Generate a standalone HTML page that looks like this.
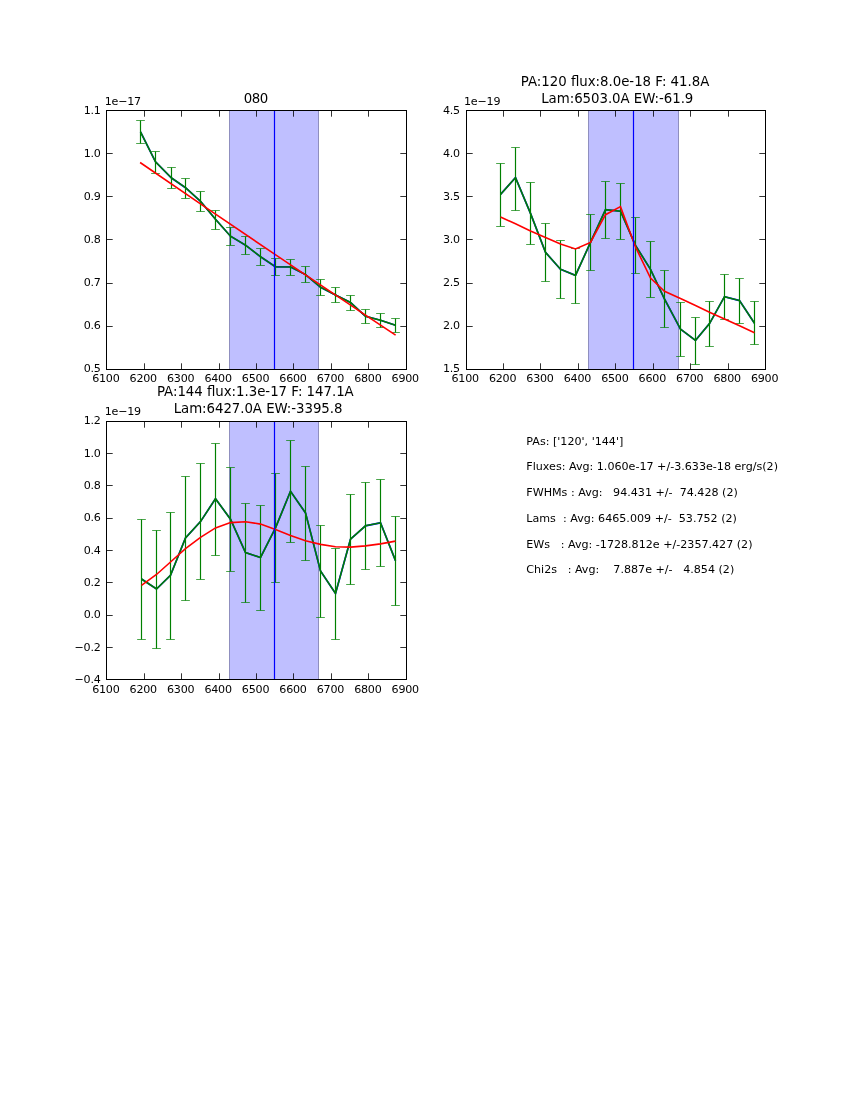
<!DOCTYPE html>
<html lang="en"><head><meta charset="utf-8"><title>080 line fits</title>
<style>html,body{margin:0;padding:0;background:#fff;overflow:hidden}svg{display:block}text{font-family:'DejaVu Sans', 'Liberation Sans', sans-serif;fill:#000;white-space:pre}</style></head><body>
<svg width="850" height="1100" viewBox="0 0 850 1100">
<rect width="850" height="1100" fill="#fff"/>
<g>
<rect x="229" y="110.5" width="90" height="259" fill="#0000ff" fill-opacity="0.25"/>
<path d="M229.5 110.5V369.5M318.5 110.5V369.5" stroke="#000" stroke-opacity="0.25" stroke-width="1" fill="none"/>
<polyline fill="none" stroke="#0000ff" stroke-width="1.7" stroke-linejoin="miter" stroke-miterlimit="10"  points="140.5,131.8 155.5,161.8 171.5,178 185.5,187.7 200.5,201.3 215.5,219.3 230.5,236.2 245.5,245.2 260.5,256.7 275.5,266.8 290.5,266.9 305.5,274.6 320.5,287.2 335.5,295 350.5,302.5 365.5,316.3 380.5,320.3 395.5,325.25"/>
<polyline fill="none" stroke="#008000" stroke-width="1.55" stroke-linejoin="miter" stroke-miterlimit="10"  points="140.5,131.8 155.5,161.8 171.5,178 185.5,187.7 200.5,201.3 215.5,219.3 230.5,236.2 245.5,245.2 260.5,256.7 275.5,266.8 290.5,266.9 305.5,274.6 320.5,287.2 335.5,295 350.5,302.5 365.5,316.3 380.5,320.3 395.5,325.25"/>
<path d="M140.5 120.5V143.5M155.5 151.5V173.5M171.5 167.5V188.5M185.5 178.5V198.5M200.5 191.5V211.5M215.5 210.5V229.5M230.5 227.5V245.5M245.5 236.5V254.5M260.5 248.5V265.5M275.5 258.5V275.5M290.5 259.5V275.5M305.5 266.5V282.5M320.5 279.5V295.5M335.5 287.5V302.5M350.5 295.5V310.5M365.5 309.5V323.5M380.5 313.5V327.5M395.5 318.5V332.5" stroke="#008000" stroke-width="1.18" fill="none"/>
<path d="M136.15 120.5H144.85M136.15 143.5H144.85M151.15 151.5H159.85M151.15 173.5H159.85M167.15 167.5H175.85M167.15 188.5H175.85M181.15 178.5H189.85M181.15 198.5H189.85M196.15 191.5H204.85M196.15 211.5H204.85M211.15 210.5H219.85M211.15 229.5H219.85M226.15 227.5H234.85M226.15 245.5H234.85M241.15 236.5H249.85M241.15 254.5H249.85M256.15 248.5H264.85M256.15 265.5H264.85M271.15 258.5H279.85M271.15 275.5H279.85M286.15 259.5H294.85M286.15 275.5H294.85M301.15 266.5H309.85M301.15 282.5H309.85M316.15 279.5H324.85M316.15 295.5H324.85M331.15 287.5H339.85M331.15 302.5H339.85M346.15 295.5H354.85M346.15 310.5H354.85M361.15 309.5H369.85M361.15 323.5H369.85M376.15 313.5H384.85M376.15 327.5H384.85M391.15 318.5H399.85M391.15 332.5H399.85" stroke="#008000" stroke-opacity="0.7" stroke-width="1" fill="none"/>
<polyline fill="none" stroke="#ff0000" stroke-width="1.6" stroke-linejoin="miter" stroke-miterlimit="10"  points="140.1,162.5 210,210.4 274.6,254.2 370,318.2 395.6,335.1"/>
<line x1="274.5" y1="110.5" x2="274.5" y2="369.5" stroke="#0000ff" stroke-width="1.2"/>
<path d="M107 153.5H112.7M406 153.5H400.3M107 196.5H112.7M406 196.5H400.3M107 239.5H112.7M406 239.5H400.3M107 283.5H112.7M406 283.5H400.3M107 326.5H112.7M406 326.5H400.3M144.5 111V116.7M144.5 369V363.3M181.5 111V116.7M181.5 369V363.3M219.5 111V116.7M219.5 369V363.3M256.5 111V116.7M256.5 369V363.3M293.5 111V116.7M293.5 369V363.3M331.5 111V116.7M331.5 369V363.3M368.5 111V116.7M368.5 369V363.3" stroke="#000" stroke-opacity="0.8" stroke-width="1" fill="none"/>
<rect x="106.5" y="110.5" width="300" height="259" fill="none" stroke="#000" stroke-width="1"/>
<text x="100.85" y="114" font-size="11.11" text-anchor="end" textLength="17.1" lengthAdjust="spacing" xml:space="preserve">1.1</text>
<text x="100.85" y="157" font-size="11.11" text-anchor="end" textLength="17.1" lengthAdjust="spacing" xml:space="preserve">1.0</text>
<text x="100.85" y="200" font-size="11.11" text-anchor="end" textLength="17.1" lengthAdjust="spacing" xml:space="preserve">0.9</text>
<text x="100.85" y="243" font-size="11.11" text-anchor="end" textLength="17.1" lengthAdjust="spacing" xml:space="preserve">0.8</text>
<text x="100.85" y="286" font-size="11.11" text-anchor="end" textLength="17.1" lengthAdjust="spacing" xml:space="preserve">0.7</text>
<text x="100.85" y="329" font-size="11.11" text-anchor="end" textLength="17.1" lengthAdjust="spacing" xml:space="preserve">0.6</text>
<text x="100.85" y="372" font-size="11.11" text-anchor="end" textLength="17.1" lengthAdjust="spacing" xml:space="preserve">0.5</text>
<text x="105.95" y="382.42" font-size="11.11" text-anchor="middle" textLength="27.6" lengthAdjust="spacing" xml:space="preserve">6100</text>
<text x="143.38" y="382.42" font-size="11.11" text-anchor="middle" textLength="27.6" lengthAdjust="spacing" xml:space="preserve">6200</text>
<text x="180.81" y="382.42" font-size="11.11" text-anchor="middle" textLength="27.6" lengthAdjust="spacing" xml:space="preserve">6300</text>
<text x="218.24" y="382.42" font-size="11.11" text-anchor="middle" textLength="27.6" lengthAdjust="spacing" xml:space="preserve">6400</text>
<text x="255.66" y="382.42" font-size="11.11" text-anchor="middle" textLength="27.6" lengthAdjust="spacing" xml:space="preserve">6500</text>
<text x="293.09" y="382.42" font-size="11.11" text-anchor="middle" textLength="27.6" lengthAdjust="spacing" xml:space="preserve">6600</text>
<text x="330.52" y="382.42" font-size="11.11" text-anchor="middle" textLength="27.6" lengthAdjust="spacing" xml:space="preserve">6700</text>
<text x="367.95" y="382.42" font-size="11.11" text-anchor="middle" textLength="27.6" lengthAdjust="spacing" xml:space="preserve">6800</text>
<text x="405.38" y="382.42" font-size="11.11" text-anchor="middle" textLength="27.6" lengthAdjust="spacing" xml:space="preserve">6900</text>
<text x="104.65" y="104.8" font-size="11.11" text-anchor="start" textLength="36.5" lengthAdjust="spacing" xml:space="preserve">1e−17</text>
<text x="255.97" y="102.8" font-size="13.33" text-anchor="middle" textLength="24.6" lengthAdjust="spacing" xml:space="preserve">080</text>
</g>
<g>
<rect x="588" y="110.5" width="91" height="259" fill="#0000ff" fill-opacity="0.25"/>
<path d="M588.5 110.5V369.5M678.5 110.5V369.5" stroke="#000" stroke-opacity="0.25" stroke-width="1" fill="none"/>
<polyline fill="none" stroke="#0000ff" stroke-width="1.7" stroke-linejoin="miter" stroke-miterlimit="10"  points="500.5,194.4 515.5,177.6 530.5,213.4 545.5,252.35 560.5,269.2 575.5,275.4 590.5,242.4 605.5,209.7 620.5,211.2 635.5,245.4 650.5,269.4 664.5,299 680.5,329.1 695.5,340.4 709.5,323.6 724.5,296.7 739.5,300.6 754.5,323.2"/>
<polyline fill="none" stroke="#008000" stroke-width="1.55" stroke-linejoin="miter" stroke-miterlimit="10"  points="500.5,194.4 515.5,177.6 530.5,213.4 545.5,252.35 560.5,269.2 575.5,275.4 590.5,242.4 605.5,209.7 620.5,211.2 635.5,245.4 650.5,269.4 664.5,299 680.5,329.1 695.5,340.4 709.5,323.6 724.5,296.7 739.5,300.6 754.5,323.2"/>
<path d="M500.5 163.5V226.5M515.5 147.5V210.5M530.5 182.5V244.5M545.5 223.5V281.5M560.5 240.5V298.5M575.5 248.5V303.5M590.5 214.5V270.5M605.5 181.5V238.5M620.5 183.5V239.5M635.5 217.5V273.5M650.5 241.5V297.5M664.5 270.5V327.5M680.5 302.5V356.5M695.5 317.5V364.5M709.5 301.5V346.5M724.5 274.5V319.5M739.5 278.5V323.5M754.5 301.5V344.5" stroke="#008000" stroke-width="1.18" fill="none"/>
<path d="M496.15 163.5H504.85M496.15 226.5H504.85M511.15 147.5H519.85M511.15 210.5H519.85M526.15 182.5H534.85M526.15 244.5H534.85M541.15 223.5H549.85M541.15 281.5H549.85M556.15 240.5H564.85M556.15 298.5H564.85M571.15 248.5H579.85M571.15 303.5H579.85M586.15 214.5H594.85M586.15 270.5H594.85M601.15 181.5H609.85M601.15 238.5H609.85M616.15 183.5H624.85M616.15 239.5H624.85M631.15 217.5H639.85M631.15 273.5H639.85M646.15 241.5H654.85M646.15 297.5H654.85M660.15 270.5H668.85M660.15 327.5H668.85M676.15 302.5H684.85M676.15 356.5H684.85M691.15 317.5H699.85M691.15 364.5H699.85M705.15 301.5H713.85M705.15 346.5H713.85M720.15 274.5H728.85M720.15 319.5H728.85M735.15 278.5H743.85M735.15 323.5H743.85M750.15 301.5H758.85M750.15 344.5H758.85" stroke="#008000" stroke-opacity="0.7" stroke-width="1" fill="none"/>
<polyline fill="none" stroke="#ff0000" stroke-width="1.6" stroke-linejoin="miter" stroke-miterlimit="10"  points="500.5,217 515.5,223.8 530.5,231 545.5,237.6 560.5,244 575.5,249 590.5,242.4 605.5,214.7 620.5,206.6 635.5,247 650.5,278.1 664.5,291.3 680.5,298.5 695.5,305.4 709.5,312.2 724.5,319 739.5,325.8 754.5,332.7"/>
<line x1="633.5" y1="110.5" x2="633.5" y2="369.5" stroke="#0000ff" stroke-width="1.2"/>
<path d="M467 153.5H472.7M765 153.5H759.3M467 196.5H472.7M765 196.5H759.3M467 239.5H472.7M765 239.5H759.3M467 283.5H472.7M765 283.5H759.3M467 326.5H472.7M765 326.5H759.3M503.5 111V116.7M503.5 369V363.3M540.5 111V116.7M540.5 369V363.3M578.5 111V116.7M578.5 369V363.3M615.5 111V116.7M615.5 369V363.3M653.5 111V116.7M653.5 369V363.3M690.5 111V116.7M690.5 369V363.3M728.5 111V116.7M728.5 369V363.3" stroke="#000" stroke-opacity="0.8" stroke-width="1" fill="none"/>
<rect x="466.5" y="110.5" width="299" height="259" fill="none" stroke="#000" stroke-width="1"/>
<text x="460.17" y="114" font-size="11.11" text-anchor="end" textLength="17.1" lengthAdjust="spacing" xml:space="preserve">4.5</text>
<text x="460.17" y="157" font-size="11.11" text-anchor="end" textLength="17.1" lengthAdjust="spacing" xml:space="preserve">4.0</text>
<text x="460.17" y="200" font-size="11.11" text-anchor="end" textLength="17.1" lengthAdjust="spacing" xml:space="preserve">3.5</text>
<text x="460.17" y="243" font-size="11.11" text-anchor="end" textLength="17.1" lengthAdjust="spacing" xml:space="preserve">3.0</text>
<text x="460.17" y="286" font-size="11.11" text-anchor="end" textLength="17.1" lengthAdjust="spacing" xml:space="preserve">2.5</text>
<text x="460.17" y="329" font-size="11.11" text-anchor="end" textLength="17.1" lengthAdjust="spacing" xml:space="preserve">2.0</text>
<text x="460.17" y="372" font-size="11.11" text-anchor="end" textLength="17.1" lengthAdjust="spacing" xml:space="preserve">1.5</text>
<text x="465.27" y="382.42" font-size="11.11" text-anchor="middle" textLength="27.6" lengthAdjust="spacing" xml:space="preserve">6100</text>
<text x="502.7" y="382.42" font-size="11.11" text-anchor="middle" textLength="27.6" lengthAdjust="spacing" xml:space="preserve">6200</text>
<text x="540.13" y="382.42" font-size="11.11" text-anchor="middle" textLength="27.6" lengthAdjust="spacing" xml:space="preserve">6300</text>
<text x="577.56" y="382.42" font-size="11.11" text-anchor="middle" textLength="27.6" lengthAdjust="spacing" xml:space="preserve">6400</text>
<text x="614.99" y="382.42" font-size="11.11" text-anchor="middle" textLength="27.6" lengthAdjust="spacing" xml:space="preserve">6500</text>
<text x="652.41" y="382.42" font-size="11.11" text-anchor="middle" textLength="27.6" lengthAdjust="spacing" xml:space="preserve">6600</text>
<text x="689.84" y="382.42" font-size="11.11" text-anchor="middle" textLength="27.6" lengthAdjust="spacing" xml:space="preserve">6700</text>
<text x="727.27" y="382.42" font-size="11.11" text-anchor="middle" textLength="27.6" lengthAdjust="spacing" xml:space="preserve">6800</text>
<text x="764.7" y="382.42" font-size="11.11" text-anchor="middle" textLength="27.6" lengthAdjust="spacing" xml:space="preserve">6900</text>
<text x="463.97" y="104.8" font-size="11.11" text-anchor="start" textLength="36.5" lengthAdjust="spacing" xml:space="preserve">1e−19</text>
<text x="615.06" y="85.8" font-size="13.33" text-anchor="middle" textLength="188.45" lengthAdjust="spacing" xml:space="preserve">PA:120 flux:8.0e-18 F: 41.8A</text>
<text x="617.28" y="102.7" font-size="13.33" text-anchor="middle" textLength="152.1" lengthAdjust="spacing" xml:space="preserve">Lam:6503.0A EW:-61.9</text>
</g>
<g>
<rect x="229" y="421.5" width="90" height="258" fill="#0000ff" fill-opacity="0.25"/>
<path d="M229.5 421.5V679.5M318.5 421.5V679.5" stroke="#000" stroke-opacity="0.25" stroke-width="1" fill="none"/>
<polyline fill="none" stroke="#0000ff" stroke-width="1.7" stroke-linejoin="miter" stroke-miterlimit="10"  points="141.5,579 156.5,589 170.5,575.3 185.5,538 200.5,521.6 215.5,498.7 230.5,519.2 245.5,552.6 260.5,557.5 275.5,527.9 290.5,491.3 305.5,512.9 320.5,571 335.5,593.5 350.5,539.2 365.5,525.8 380.5,522.8 395.5,560.6"/>
<polyline fill="none" stroke="#008000" stroke-width="1.55" stroke-linejoin="miter" stroke-miterlimit="10"  points="141.5,579 156.5,589 170.5,575.3 185.5,538 200.5,521.6 215.5,498.7 230.5,519.2 245.5,552.6 260.5,557.5 275.5,527.9 290.5,491.3 305.5,512.9 320.5,571 335.5,593.5 350.5,539.2 365.5,525.8 380.5,522.8 395.5,560.6"/>
<path d="M141.5 519.5V639.5M156.5 530.5V648.5M170.5 512.5V639.5M185.5 476.5V600.5M200.5 463.5V579.5M215.5 443.5V555.5M230.5 467.5V571.5M245.5 503.5V602.5M260.5 505.5V610.5M275.5 473.5V582.5M290.5 440.5V542.5M305.5 466.5V560.5M320.5 525.5V617.5M335.5 548.5V639.5M350.5 494.5V584.5M365.5 482.5V569.5M380.5 479.5V566.5M395.5 516.5V605.5" stroke="#008000" stroke-width="1.18" fill="none"/>
<path d="M137.15 519.5H145.85M137.15 639.5H145.85M152.15 530.5H160.85M152.15 648.5H160.85M166.15 512.5H174.85M166.15 639.5H174.85M181.15 476.5H189.85M181.15 600.5H189.85M196.15 463.5H204.85M196.15 579.5H204.85M211.15 443.5H219.85M211.15 555.5H219.85M226.15 467.5H234.85M226.15 571.5H234.85M241.15 503.5H249.85M241.15 602.5H249.85M256.15 505.5H264.85M256.15 610.5H264.85M271.15 473.5H279.85M271.15 582.5H279.85M286.15 440.5H294.85M286.15 542.5H294.85M301.15 466.5H309.85M301.15 560.5H309.85M316.15 525.5H324.85M316.15 617.5H324.85M331.15 548.5H339.85M331.15 639.5H339.85M346.15 494.5H354.85M346.15 584.5H354.85M361.15 482.5H369.85M361.15 569.5H369.85M376.15 479.5H384.85M376.15 566.5H384.85M391.15 516.5H399.85M391.15 605.5H399.85" stroke="#008000" stroke-opacity="0.7" stroke-width="1" fill="none"/>
<polyline fill="none" stroke="#ff0000" stroke-width="1.6" stroke-linejoin="miter" stroke-miterlimit="10"  points="141.5,585.4 156.5,574.5 170.5,562 185.5,548.6 200.5,537.3 215.5,527.9 230.5,522.6 245.5,521.7 260.5,524.1 275.5,529.6 290.5,535.4 305.5,540.7 320.5,544.4 335.5,546.7 350.5,547.1 365.5,545.9 380.5,543.9 395.5,541.1"/>
<line x1="274.5" y1="421.5" x2="274.5" y2="679.5" stroke="#0000ff" stroke-width="1.2"/>
<path d="M107 453.5H112.7M406 453.5H400.3M107 485.5H112.7M406 485.5H400.3M107 518.5H112.7M406 518.5H400.3M107 550.5H112.7M406 550.5H400.3M107 582.5H112.7M406 582.5H400.3M107 615.5H112.7M406 615.5H400.3M107 647.5H112.7M406 647.5H400.3M144.5 422V427.7M144.5 679V673.3M181.5 422V427.7M181.5 679V673.3M219.5 422V427.7M219.5 679V673.3M256.5 422V427.7M256.5 679V673.3M293.5 422V427.7M293.5 679V673.3M331.5 422V427.7M331.5 679V673.3M368.5 422V427.7M368.5 679V673.3" stroke="#000" stroke-opacity="0.8" stroke-width="1" fill="none"/>
<rect x="106.5" y="421.5" width="300" height="258" fill="none" stroke="#000" stroke-width="1"/>
<text x="100.85" y="424" font-size="11.11" text-anchor="end" textLength="17.1" lengthAdjust="spacing" xml:space="preserve">1.2</text>
<text x="100.85" y="457" font-size="11.11" text-anchor="end" textLength="17.1" lengthAdjust="spacing" xml:space="preserve">1.0</text>
<text x="100.85" y="489" font-size="11.11" text-anchor="end" textLength="17.1" lengthAdjust="spacing" xml:space="preserve">0.8</text>
<text x="100.85" y="521" font-size="11.11" text-anchor="end" textLength="17.1" lengthAdjust="spacing" xml:space="preserve">0.6</text>
<text x="100.85" y="554" font-size="11.11" text-anchor="end" textLength="17.1" lengthAdjust="spacing" xml:space="preserve">0.4</text>
<text x="100.85" y="586" font-size="11.11" text-anchor="end" textLength="17.1" lengthAdjust="spacing" xml:space="preserve">0.2</text>
<text x="100.85" y="618" font-size="11.11" text-anchor="end" textLength="17.1" lengthAdjust="spacing" xml:space="preserve">0.0</text>
<text x="100.85" y="651" font-size="11.11" text-anchor="end" textLength="26.4" lengthAdjust="spacing" xml:space="preserve">−0.2</text>
<text x="100.85" y="683" font-size="11.11" text-anchor="end" textLength="26.4" lengthAdjust="spacing" xml:space="preserve">−0.4</text>
<text x="105.95" y="693.01" font-size="11.11" text-anchor="middle" textLength="27.6" lengthAdjust="spacing" xml:space="preserve">6100</text>
<text x="143.38" y="693.01" font-size="11.11" text-anchor="middle" textLength="27.6" lengthAdjust="spacing" xml:space="preserve">6200</text>
<text x="180.81" y="693.01" font-size="11.11" text-anchor="middle" textLength="27.6" lengthAdjust="spacing" xml:space="preserve">6300</text>
<text x="218.24" y="693.01" font-size="11.11" text-anchor="middle" textLength="27.6" lengthAdjust="spacing" xml:space="preserve">6400</text>
<text x="255.66" y="693.01" font-size="11.11" text-anchor="middle" textLength="27.6" lengthAdjust="spacing" xml:space="preserve">6500</text>
<text x="293.09" y="693.01" font-size="11.11" text-anchor="middle" textLength="27.6" lengthAdjust="spacing" xml:space="preserve">6600</text>
<text x="330.52" y="693.01" font-size="11.11" text-anchor="middle" textLength="27.6" lengthAdjust="spacing" xml:space="preserve">6700</text>
<text x="367.95" y="693.01" font-size="11.11" text-anchor="middle" textLength="27.6" lengthAdjust="spacing" xml:space="preserve">6800</text>
<text x="405.38" y="693.01" font-size="11.11" text-anchor="middle" textLength="27.6" lengthAdjust="spacing" xml:space="preserve">6900</text>
<text x="104.65" y="415.39" font-size="11.11" text-anchor="start" textLength="36.5" lengthAdjust="spacing" xml:space="preserve">1e−19</text>
<text x="255.31" y="396.39" font-size="13.33" text-anchor="middle" textLength="196.8" lengthAdjust="spacing" xml:space="preserve">PA:144 flux:1.3e-17 F: 147.1A</text>
<text x="258.05" y="413.29" font-size="13.33" text-anchor="middle" textLength="168.8" lengthAdjust="spacing" xml:space="preserve">Lam:6427.0A EW:-3395.8</text>
</g>
<g>
<text x="526.3" y="444.8" font-size="11.11" text-anchor="start" xml:space="preserve">PAs: ['120', '144']</text>
<text x="526.3" y="470" font-size="11.11" text-anchor="start" xml:space="preserve">Fluxes: Avg: 1.060e-17 +/-3.633e-18 erg/s(2)</text>
<text x="526.3" y="495.8" font-size="11.11" text-anchor="start" xml:space="preserve">FWHMs : Avg:   94.431 +/-  74.428 (2)</text>
<text x="526.3" y="521.7" font-size="11.11" text-anchor="start" xml:space="preserve">Lams  : Avg: 6465.009 +/-  53.752 (2)</text>
<text x="526.3" y="547.5" font-size="11.11" text-anchor="start" xml:space="preserve">EWs   : Avg: -1728.812e +/-2357.427 (2)</text>
<text x="526.3" y="573" font-size="11.11" text-anchor="start" xml:space="preserve">Chi2s   : Avg:    7.887e +/-   4.854 (2)</text>
</g>
</svg></body></html>
